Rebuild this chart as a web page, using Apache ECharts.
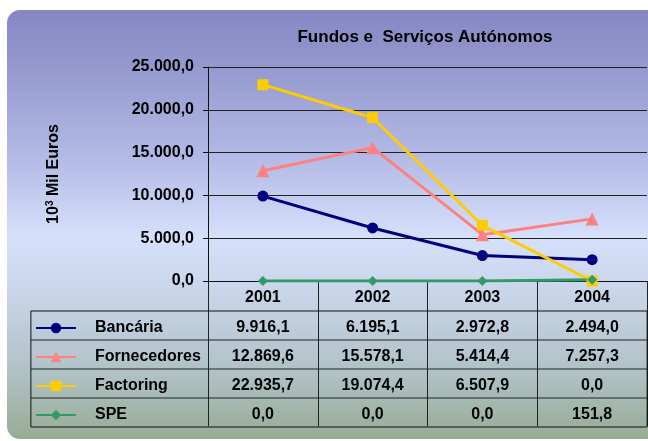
<!DOCTYPE html>
<html>
<head>
<meta charset="UTF-8">
<title></title>
<style>
  html, body { margin: 0; padding: 0; background: #fff; }
  #container { width: 648px; height: 441px; }
</style>
</head>
<body>
<div id="container"></div>
<script src="https://cdn.jsdelivr.net/npm/echarts@6/dist/echarts.min.js"></script>
<script>
var years = ['2001', '2002', '2003', '2004'];
var bancaria = [9916.1, 6195.1, 2972.8, 2494.0];
var fornecedores = [12869.6, 15578.1, 5414.4, 7257.3];
var factoring = [22935.7, 19074.4, 6507.9, 0.0];
var spe = [0.0, 0.0, 0.0, 151.8];

var seriesNames = ['Bancária', 'Fornecedores', 'Factoring', 'SPE'];
var seriesData = [bancaria, fornecedores, factoring, spe];
var seriesColors = ['#000080', '#ff8080', '#ffcc00', '#339966'];
var seriesSymbols = ['circle', 'triangle', 'rect', 'diamond'];
var symbolSizes = [11, 13, 11, 10];

var FONT = '"Liberation Sans", Arial, sans-serif';
var FS = 16;

// formato portugues: 12.869,6
function fmt(v) {
    var parts = v.toFixed(1).split('.');
    return parts[0].replace(/\B(?=(\d{3})+(?!\d))/g, '.') + ',' + parts[1];
}

var myChart = echarts.init(document.getElementById('container'));

// eixos x extra = linhas de valores da tabela
var xAxes = [{
    type: 'category',
    data: years,
    position: 'bottom',
    boundaryGap: true,
    axisLine: { lineStyle: { color: '#111', width: 1 } },
    axisTick: { show: true, interval: 0, length: 145, lineStyle: { color: '#222' } },
    axisLabel: { color: '#000', fontWeight: 'bold', fontSize: FS, fontFamily: FONT, margin: 9 }
}];
seriesData.forEach(function (row, r) {
    xAxes.push({
        type: 'category',
        data: years,
        position: 'bottom',
        offset: 29 + 29 * r,
        axisLine: { show: false },
        axisTick: { show: false },
        axisLabel: {
            color: '#000', fontWeight: 'bold', fontSize: FS, fontFamily: FONT, margin: 10,
            formatter: function (val, i) { return fmt(row[i]); }
        }
    });
});

var series = seriesNames.map(function (name, i) {
    return {
        name: name,
        type: 'line',
        xAxisIndex: 0,
        data: seriesData[i],
        symbol: seriesSymbols[i],
        symbolSize: symbolSizes[i],
        lineStyle: { color: seriesColors[i], width: 3 },
        itemStyle: { color: seriesColors[i] },
        z: 3
    };
});

var background = {
    type: 'rect',
    id: 'bg',
    z: -10,
    shape: { x: 7, y: 10, width: 670, height: 429, r: 13 },
    style: {
        fill: new echarts.graphic.LinearGradient(0, 0, 0, 1, [
            { offset: 0, color: '#8587c3' },
            { offset: 0.12, color: '#9397cd' },
            { offset: 0.35, color: '#b4bbe6' },
            { offset: 0.53, color: '#d6e0fb' },
            { offset: 0.68, color: '#c6d3e6' },
            { offset: 0.85, color: '#afc1c4' },
            { offset: 1, color: '#97ac95' }
        ])
    }
};

myChart.setOption({
    animation: false,
    textStyle: { fontFamily: FONT },
    title: {
        text: 'Fundos e  Serviços Autónomos',
        left: 420,
        textAlign: 'center',
        top: 24,
        textStyle: { fontSize: 17, fontWeight: 'bold', color: '#000', fontFamily: FONT }
    },
    legend: {
        data: seriesNames,
        orient: 'vertical',
        left: 30,
        top: 315,
        itemWidth: 40,
        itemHeight: 13,
        itemGap: 13,
        formatter: function (name) { return '{g|}{n|' + name + '}'; },
        textStyle: {
            rich: {
                g: { width: 14, lineHeight: 16 },
                n: { color: '#000', fontWeight: 'bold', fontSize: FS, lineHeight: 16, fontFamily: FONT }
            }
        }
    },
    grid: { left: 208, right: 1, top: 67, bottom: 160, containLabel: false },
    xAxis: xAxes,
    yAxis: {
        type: 'value',
        min: 0,
        max: 25000,
        interval: 5000,
        name: '{a|10}{s|3}{a| Mil Euros}',
        nameLocation: 'middle',
        nameRotate: 90,
        nameGap: 146,
        nameTextStyle: {
            rich: {
                a: { fontSize: FS, fontWeight: 'bold', color: '#000', fontFamily: FONT },
                s: { fontSize: 10, fontWeight: 'bold', color: '#000', fontFamily: FONT, verticalAlign: 'top', padding: [0, 0, 7, 0] }
            }
        },
        axisLine: { show: true, lineStyle: { color: '#111' } },
        axisTick: { show: true, length: 5, lineStyle: { color: '#111' } },
        splitLine: { lineStyle: { color: '#222', width: 1 } },
        axisLabel: {
            color: '#000', fontWeight: 'bold', fontSize: FS, fontFamily: FONT, margin: 14,
            formatter: function (v) { return fmt(v); }
        }
    },
    series: series,
    graphic: [background]
});

// bordas da tabela (esquerda das legendas + linhas horizontais)
var x0 = myChart.convertToPixel({ xAxisIndex: 0 }, 0) - 55 - 177;
var xEnd = myChart.convertToPixel({ xAxisIndex: 0 }, years.length - 1) + 55;
var yTop = myChart.convertToPixel({ yAxisIndex: 0 }, 0) + 30;
var rowH = 29;
var tableLines = [background, {
    type: 'rect',
    id: 'tbl',
    z: 100,
    shape: { x: x0, y: yTop, width: xEnd - x0, height: rowH * seriesNames.length },
    style: { fill: null, stroke: '#111', lineWidth: 1 }
}];
for (var r = 1; r < seriesNames.length; r++) {
    tableLines.push({
        type: 'line',
        id: 'row' + r,
        z: 100,
        shape: { x1: x0, y1: yTop + rowH * r, x2: xEnd, y2: yTop + rowH * r },
        style: { stroke: '#222', lineWidth: 1 }
    });
}
myChart.setOption({ graphic: tableLines });
</script>
</body>
</html>
